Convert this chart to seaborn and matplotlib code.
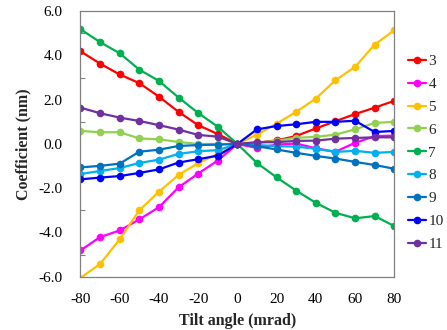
import matplotlib
matplotlib.use("Agg")
import matplotlib.pyplot as plt
import seaborn as sns
import pandas as pd
from matplotlib.ticker import MultipleLocator, FormatStrFormatter

tilt = [-80, -70, -60, -50, -40, -30, -20, -10, 0, 10, 20, 30, 40, 50, 60, 70, 80]
s3 = [4.19, 3.63, 3.14, 2.75, 2.14, 1.45, 0.85, 0.45, 0, 0.06, 0.16, 0.36, 0.70, 1.03, 1.35, 1.64, 1.95]
s4 = [-4.81, -4.21, -3.91, -3.41, -2.86, -1.96, -1.34, -0.75, 0, -0.18, -0.03, 0.02, -0.20, -0.35, 0.05, 0.35, 0.38]
s5 = [-6.05, -5.43, -4.31, -3.00, -2.16, -1.40, -0.87, -0.45, 0, 0.42, 0.92, 1.45, 2.05, 2.88, 3.48, 4.49, 5.14]
s6 = [0.59, 0.53, 0.53, 0.25, 0.21, 0.09, 0.00, 0.00, 0, 0.05, 0.15, 0.28, 0.32, 0.42, 0.66, 0.95, 1.00]
s7 = [5.19, 4.60, 4.10, 3.36, 2.85, 2.10, 1.40, 0.78, 0, -0.86, -1.51, -2.11, -2.66, -3.11, -3.36, -3.26, -3.71]
s8 = [-1.36, -1.22, -1.09, -0.86, -0.71, -0.45, -0.33, -0.28, 0, -0.05, -0.10, -0.12, -0.22, -0.36, -0.31, -0.40, -0.36]
s9 = [-1.06, -0.99, -0.89, -0.35, -0.26, -0.09, -0.05, -0.03, 0, -0.10, -0.25, -0.40, -0.54, -0.66, -0.81, -0.95, -1.12]
s10 = [-1.60, -1.52, -1.45, -1.31, -1.15, -0.84, -0.69, -0.53, 0, 0.66, 0.81, 0.89, 1.00, 1.00, 1.05, 0.54, 0.59]
s11 = [1.64, 1.39, 1.19, 1.04, 0.85, 0.65, 0.41, 0.33, 0, 0.08, 0.08, 0.14, 0.15, 0.24, 0.27, 0.30, 0.30]

labels = ["3", "4", "5", "6", "7", "8", "9", "10", "11"]
series = [s3, s4, s5, s6, s7, s8, s9, s10, s11]
colors = ["#FF0000", "#FF00FF", "#FFC000", "#92D050", "#00B050",
          "#00B0F0", "#0070C0", "#0000FF", "#7030A0"]

sns.set_style("white")
plt.rcParams["font.family"] = ["Liberation Serif", "DejaVu Serif"]
plt.rcParams["axes.unicode_minus"] = False

fig = plt.figure(figsize=(4.47, 3.30), dpi=100)
ax = fig.add_axes([0.180, 0.1615, 0.702, 0.8045])

for lab, vals, col in zip(labels, series, colors):
    df = pd.DataFrame({"tilt": tilt, "coef": vals})
    kw = {}
    if lab == "5":
        kw["markevery"] = list(range(1, len(tilt)))
    sns.lineplot(data=df, x="tilt", y="coef", color=col, marker="o",
                 markersize=5.5, markeredgewidth=0, linewidth=1.6,
                 label=lab, ax=ax, **kw)

ax.set_xlim(-80, 80)
ax.set_ylim(-6, 6)
ax.xaxis.set_major_locator(MultipleLocator(20))
ax.yaxis.set_major_locator(MultipleLocator(2))
ax.yaxis.set_minor_locator(MultipleLocator(1))
ax.yaxis.set_major_formatter(FormatStrFormatter("%.1f"))
ax.tick_params(axis="both", which="both", direction="in", length=3.5,
               width=0.8, color="#808080", labelsize=11, colors="black")
ax.tick_params(axis="y", which="both", pad=13)
ax.tick_params(axis="x", which="both", pad=11.5)
ax.tick_params(axis="y", which="minor", left=True, length=3.5)
for sp in ax.spines.values():
    sp.set_color("#808080")
    sp.set_linewidth(0.9)

ax.set_xlabel("Tilt angle (mrad)", fontsize=11.5, fontweight="bold", labelpad=5)
ax.set_ylabel("Coefficient (nm)", fontsize=11.5, fontweight="bold", labelpad=5)

leg = ax.legend(loc="upper left", bbox_to_anchor=(0.912, 0.835),
                bbox_transform=fig.transFigure, frameon=False, fontsize=11,
                handlelength=1.2, handletextpad=0.15, labelspacing=0.6,
                borderpad=0, borderaxespad=0)

fig.savefig("out.png", dpi=100)
